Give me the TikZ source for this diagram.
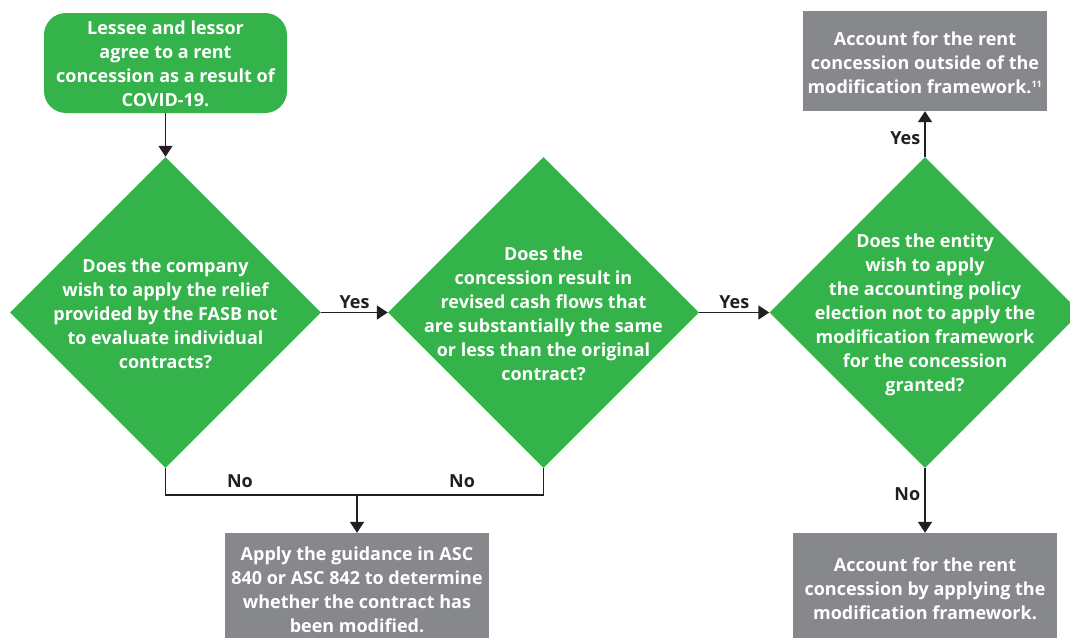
\documentclass[tikz,border=0pt]{standalone}
\usepackage{fontspec}
\setmainfont{Open Sans}
\usetikzlibrary{arrows.meta,shapes.geometric}
\definecolor{dgreen}{HTML}{33B34A}
\definecolor{dgray}{HTML}{86888B}
\definecolor{ink}{HTML}{231F20}
\tikzset{
  txt/.style={text=white, font=\fontsize{18}{24}\selectfont\bfseries, align=center, inner sep=0pt},
  startbox/.style={fill=dgreen, rounded corners=22pt, minimum width=243pt, minimum height=100pt, inner sep=0pt},
  dia/.style={diamond, fill=dgreen, minimum width=311pt, minimum height=311pt, inner sep=0pt},
  gbox/.style={fill=dgray, inner sep=0pt},
  arr/.style={draw=ink, line width=1.6pt, -{Triangle[width=14pt,length=11pt]}},
  conn/.style={draw=ink, line width=1.6pt},
  lab/.style={text=ink, font=\fontsize{18}{20}\selectfont\bfseries, inner sep=2pt}
}
\begin{document}
\begin{tikzpicture}[x=1pt,y=-1pt]
\useasboundingbox (0,0) rectangle (1070,637);
\clip (0,0) rectangle (1070,637);
\node[startbox] (s) at (165.5,63) {};
\node[txt] (st) at (165.5,64) {Lessee and lessor\\agree to a rent\\concession as a result of\\COVID-19.};
\node[dia] (d1) at (165.5,312.5) {};
\node[dia] (d2) at (543.5,312.5) {};
\node[dia] (d3) at (925,312.5) {};
\node[txt] (t1) at (165.5,314) {Does the company\\wish to apply the relief\\provided by the FASB not\\to evaluate individual\\contracts?};
\node[txt] (t2) at (543.5,314) {Does the\\concession result in\\revised cash flows that\\are substantially the same\\or less than the original\\contract?};
\node[txt] (t3) at (925,314.5) {Does the entity\\wish to apply\\the accounting policy\\election not to apply the\\modification framework\\for the concession\\granted?};
\node[gbox, minimum width=244pt, minimum height=100pt] (g1) at (925,61) {};
\node[txt] (g1t) at (925,63) {Account for the rent\\concession outside of the\\modification framework.\textsuperscript{\fontsize{9}{9}\selectfont 11}};
\node[gbox, minimum width=264pt, minimum height=112pt] (g2) at (925,589) {};
\node[txt] (g2t) at (925,589) {Account for the rent\\concession by applying the\\modification framework.};
\node[gbox, minimum width=264pt, minimum height=114pt] (g3) at (357,590) {};
\node[txt] (g3t) at (357,590) {Apply the guidance in ASC\\840 or ASC 842 to determine\\whether the contract has\\been modified.};
\draw[arr] (s) -- (d1);
\draw[arr] (d1) -- node[lab, above=1pt] (y1) {Yes} (d2);
\draw[arr] (d2) -- node[lab, above=1pt] (y2) {Yes} (d3);
\draw[arr] (d3) -- node[lab, left=2pt, pos=0.4] (y3) {Yes} (g1);
\draw[arr] (d3) -- node[lab, left=2pt, pos=0.4] (n3) {No} (g2);
\coordinate (j) at (357,495);
\draw[conn] (d1.south) |- (j) -| (d2.south);
\draw[arr] (j) -- (g3);
\node[lab] (n1) at (240,481) {No};
\node[lab] (n2) at (462,481) {No};
\end{tikzpicture}
\end{document}
